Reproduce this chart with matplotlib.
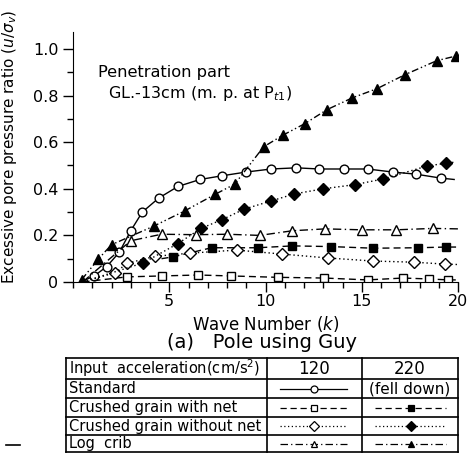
import numpy as np
import matplotlib
matplotlib.use('Agg')
import matplotlib.pyplot as plt
from matplotlib.ticker import MultipleLocator

plt.rcParams['font.family'] = ['DejaVu Sans']

# --- data (wave number k, pore pressure ratio) ---
k_std = [0.4, 1.1, 1.75, 2.4, 3.0, 3.6, 4.45, 5.45, 6.6, 7.75, 9.0, 10.3, 11.6, 12.8, 14.1, 15.3, 16.6, 17.8, 19.1, 19.8]
v_std = [0.0, 0.026, 0.066, 0.127, 0.22, 0.30, 0.36, 0.41, 0.44, 0.456, 0.472, 0.485, 0.49, 0.485, 0.485, 0.485, 0.472, 0.463, 0.446, 0.44]

k_net120 = [0.5, 2.8, 4.6, 6.5, 8.2, 10.65, 13.05, 15.3, 17.15, 18.5, 19.5, 20.0]
v_net120 = [0.0, 0.022, 0.026, 0.03, 0.026, 0.02, 0.017, 0.009, 0.017, 0.013, 0.009, 0.009]

k_net220 = [4.6, 5.2, 7.2, 9.6, 11.4, 13.4, 15.6, 17.9, 19.4, 20.0]
v_net220 = [0.10, 0.108, 0.147, 0.147, 0.155, 0.152, 0.145, 0.147, 0.15, 0.15]

k_nonet120 = [0.5, 2.2, 2.8, 4.25, 6.1, 8.5, 10.85, 13.25, 15.6, 17.7, 19.3, 20.0]
v_nonet120 = [0.0, 0.04, 0.08, 0.11, 0.124, 0.137, 0.12, 0.103, 0.09, 0.085, 0.077, 0.075]

k_nonet220 = [0.5, 3.65, 5.45, 6.65, 7.75, 8.9, 10.3, 11.5, 13.0, 14.65, 16.1, 18.4, 19.4, 19.9]
v_nonet220 = [0.0, 0.082, 0.165, 0.23, 0.268, 0.313, 0.348, 0.378, 0.40, 0.418, 0.442, 0.498, 0.51, 0.515]

k_log120 = [0.5, 3.0, 4.6, 6.4, 8.0, 9.7, 11.4, 13.1, 15.0, 16.8, 18.7, 20.0]
v_log120 = [0.0, 0.177, 0.205, 0.203, 0.205, 0.20, 0.22, 0.228, 0.224, 0.224, 0.23, 0.228]

k_log220 = [0.45, 1.3, 2.0, 4.2, 5.8, 7.4, 8.4, 9.9, 10.9, 12.05, 13.2, 14.5, 15.8, 17.25, 18.9, 19.9]
v_log220 = [0.01, 0.097, 0.16, 0.24, 0.305, 0.377, 0.42, 0.58, 0.63, 0.68, 0.74, 0.79, 0.83, 0.89, 0.95, 0.97]

row_names = ['Standard', 'Crushed grain with net', 'Crushed grain without net', 'Log  crib']

solid = '-'
dashed = (0, (5, 3))
dotted = (0, (1, 2))
dashdot = (0, (6, 2.5, 1, 2.5))
dashdotdot = (0, (5, 2, 1, 2, 1, 2))

fig = plt.figure(figsize=(4.67, 4.53), dpi=100)
ax = fig.add_axes([73 / 467, 1 - 282 / 453, 385 / 467, 250 / 453])


def mid(n, first=True, last=True):
    # marker indices, skipping line-only end points
    return list(range(1 if first else 0, n - 1 if last else n))


kw = dict(color='black', lw=1.0, ms=6.3, mew=1.0)
ax.plot(k_std, v_std, linestyle=solid, marker='o', mfc='white', markevery=mid(len(k_std)), **kw)
ax.plot(k_net120, v_net120, linestyle=dashed, marker='s', mfc='white', markevery=mid(len(k_net120)), **kw)
ax.plot(k_net220, v_net220, linestyle=dashed, marker='s', mfc='black', markevery=mid(len(k_net220)), **kw)
ax.plot(k_nonet120, v_nonet120, linestyle=dotted, marker='D', mfc='white', markevery=mid(len(k_nonet120)), **dict(kw, ms=6))
ax.plot(k_nonet220, v_nonet220, linestyle=dotted, marker='D', mfc='black', markevery=mid(len(k_nonet220)), **dict(kw, ms=6))
ax.plot(k_log120, v_log120, linestyle=dashdot, marker='^', mfc='white', markevery=mid(len(k_log120)), **dict(kw, ms=7))
ax.plot(k_log220, v_log220, linestyle=dashdotdot, marker='^', mfc='black', markevery=mid(len(k_log220), first=False, last=False), **dict(kw, ms=7))

ax.set_xlim(0, 20)
ax.set_ylim(0, 250 / 233)
for s in ['top', 'right']:
    ax.spines[s].set_visible(False)
ax.xaxis.set_minor_locator(MultipleLocator(1))
ax.set_xticks([5, 10, 15, 20])
ax.set_yticks([0, 0.2, 0.4, 0.6, 0.8, 1.0])
ax.set_yticklabels(['0', '0.2', '0.4', '0.6', '0.8', '1.0'])
ax.yaxis.set_minor_locator(MultipleLocator(0.1))
ax.tick_params(axis='both', which='major', direction='out', length=7, width=1, labelsize=11.5)
ax.tick_params(axis='both', which='minor', direction='out', length=4, width=1)
ax.tick_params(axis='x', pad=2)
ax.set_ylabel(r'Excessive pore pressure ratio ($u/\sigma_v$)', fontsize=11)
ax.yaxis.set_label_coords(-0.14, 0.54)
ax.set_xlabel(r'Wave Number ($k$)', fontsize=12, labelpad=3)

ax.text(1.3, 0.9, 'Penetration part', fontsize=11.7, va='center')
ax.text(1.8, 0.81, r'GL.-13cm (m. p. at P$_{t1}$)', fontsize=11.5, va='center')

# overlay in pixel coordinates for caption and table
ov = fig.add_axes([0, 0, 1, 1])
ov.set_xlim(0, 467)
ov.set_ylim(453, 0)
ov.axis('off')
ov.text(262, 342, '(a)   Pole using Guy', fontsize=14, ha='center', va='center')

cols = [66, 267, 362, 458]
rows = [358, 379, 398, 417, 435, 452]
for x in cols:
    ov.plot([x, x], [rows[0], rows[-1]], color='black', lw=1.2)
for y in rows:
    ov.plot([cols[0], cols[-1]], [y, y], color='black', lw=1.2)

ov.text(69, (rows[0] + rows[1]) / 2, r'Input  acceleration(cm/s$^2$)', fontsize=10.5, va='center')
ov.text((cols[1] + cols[2]) / 2, (rows[0] + rows[1]) / 2, '120', fontsize=12, ha='center', va='center')
ov.text((cols[2] + cols[3]) / 2, (rows[0] + rows[1]) / 2, '220', fontsize=12, ha='center', va='center')
for i, name in enumerate(row_names):
    ov.text(69, (rows[i + 1] + rows[i + 2]) / 2, name, fontsize=10.5, va='center')
ov.text((cols[2] + cols[3]) / 2, (rows[1] + rows[2]) / 2, '(fell down)', fontsize=11, ha='center', va='center')

samples = [
    (solid, 'o', 'white', None, None),
    (dashed, 's', 'white', dashed, 'black'),
    (dotted, 'D', 'white', dotted, 'black'),
    (dashdot, '^', 'white', dashdot, 'black'),
]
for i, (ls1, m, fc1, ls2, fc2) in enumerate(samples):
    yc = (rows[i + 1] + rows[i + 2]) / 2
    ov.plot([280, 347], [yc, yc], linestyle=ls1, color='black', lw=0.9)
    ov.plot([313.5], [yc], marker=m, mfc=fc1, mec='black', ms=5, mew=0.9)
    if ls2 is not None:
        ov.plot([375, 446], [yc, yc], linestyle=ls2, color='black', lw=0.9)
        ov.plot([410.5], [yc], marker=m, mfc=fc2, mec='black', ms=5, mew=0.9)

ov.plot([6, 20], [445, 445], color='black', lw=1.2)

fig.savefig('out.png', dpi=100)
